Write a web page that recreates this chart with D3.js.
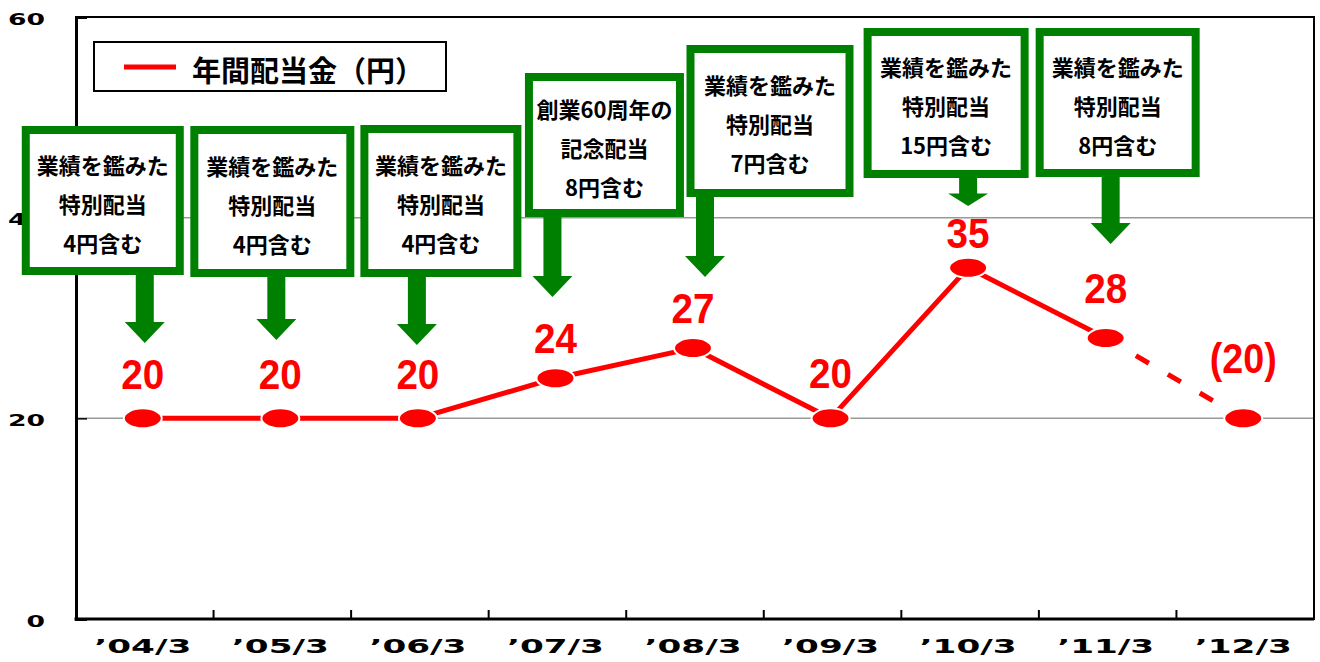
<!DOCTYPE html>
<html>
<head>
<meta charset="utf-8">
<script src="https://cdn.jsdelivr.net/npm/d3@7"></script>
<style>
  body { margin: 0; background: #fff; }
</style>
</head>
<body>
<script>
const categories = ["’04/3", "’05/3", "’06/3", "’07/3", "’08/3", "’09/3", "’10/3", "’11/3", "’12/3"];
const dividends = [20, 20, 20, 24, 27, 20, 35, 28, 20];
const valueLabels = ["20", "20", "20", "24", "27", "20", "35", "28", "(20)"];
const forecastFrom = 7; // '11/3 -> '12/3 is the forecast, drawn dashed
const yTicks = [0, 20, 40, 60];
const seriesName = "年間配当金（円）";

const calloutCategories = ["’04/3", "’05/3", "’06/3", "’07/3", "’08/3", "’10/3", "’11/3"];
const calloutTexts = [
  ["業績を鑑みた", "特別配当", "4円含む"],
  ["業績を鑑みた", "特別配当", "4円含む"],
  ["業績を鑑みた", "特別配当", "4円含む"],
  ["創業60周年の", "記念配当", "8円含む"],
  ["業績を鑑みた", "特別配当", "7円含む"],
  ["業績を鑑みた", "特別配当", "15円含む"],
  ["業績を鑑みた", "特別配当", "8円含む"],
];

const width = 1320;
const height = 662;
const margin = { top: 17, right: 6, bottom: 43, left: 76 };

const red = "#ff0000";
const green = "#008000";

// box offsets from the category centre, box top/bottom, arrow offset and tip
const calloutLayout = [
  { dx: -40, w: 162, top: 126, bottom: 275, ax: 2, tip: 343 },
  { dx: -8, w: 164, top: 126, bottom: 277, ax: -4, tip: 340 },
  { dx: 23, w: 161, top: 125, bottom: 277, ax: -1, tip: 345 },
  { dx: 49, w: 159, top: 73, bottom: 217, ax: -3, tip: 297 },
  { dx: 77, w: 167, top: 45, bottom: 197, ax: 12, tip: 277 },
  { dx: -22, w: 165, top: 28, bottom: 178, ax: 0, tip: 206 },
  { dx: 12, w: 164, top: 28, bottom: 177, ax: 5, tip: 244 },
];
const labelLift = [29, 29, 29, 25, 25, 30, 20, 35, 45];

const xScale = d3
  .scaleBand()
  .domain(categories)
  .range([margin.left, width - margin.right]);

const yScale = d3
  .scaleLinear()
  .domain([0, 60])
  .range([height - margin.bottom, margin.top]);

const cx = (d) => xScale(d) + xScale.bandwidth() / 2 - 2;

const svg = d3
  .select("body")
  .append("svg")
  .attr("width", width)
  .attr("height", height)
  .attr("viewBox", `0 0 ${width} ${height}`);

// grid
svg
  .append("g")
  .selectAll("line")
  .data([20, 40])
  .enter()
  .append("line")
  .attr("x1", margin.left)
  .attr("x2", width - margin.right)
  .attr("y1", (d) => yScale(d))
  .attr("y2", (d) => yScale(d))
  .attr("stroke", "#999")
  .attr("stroke-width", 1.5);

// frame
svg
  .append("rect")
  .attr("x", margin.left)
  .attr("y", margin.top)
  .attr("width", width - margin.left - margin.right)
  .attr("height", height - margin.top - margin.bottom)
  .attr("fill", "none")
  .attr("stroke", "#000")
  .attr("stroke-width", 2);

// y axis
const yAxis = d3.axisLeft(yScale).tickValues(yTicks).tickSize(-11).tickPadding(31);
const yAxisG = svg
  .append("g")
  .attr("transform", `translate(${margin.left} 0)`)
  .call(yAxis);
yAxisG.select(".domain").attr("stroke-width", 3);
yAxisG.selectAll(".tick line").attr("stroke-width", 1.5);
yAxisG
  .selectAll("text")
  .attr("font-family", "DejaVu Sans")
  .attr("font-weight", "bold")
  .attr("font-size", 16)
  .attr("fill", "#000")
  .attr("dy", "0.45em")
  .attr("textLength", (d) => String(d).length * 18.5)
  .attr("lengthAdjust", "spacingAndGlyphs");

// x axis
const xAxis = d3.axisBottom(xScale).tickSize(0).tickPadding(20);
const xAxisG = svg
  .append("g")
  .attr("transform", `translate(-2 ${height - margin.bottom})`)
  .call(xAxis);
xAxisG.select(".domain").remove();
xAxisG
  .selectAll("text")
  .attr("font-family", "DejaVu Sans")
  .attr("font-weight", "bold")
  .attr("font-size", 20)
  .attr("fill", "#000")
  .attr("textLength", 97)
  .attr("lengthAdjust", "spacingAndGlyphs");

svg
  .append("line")
  .attr("x1", margin.left - 1.5)
  .attr("x2", width - margin.right)
  .attr("y1", height - margin.bottom)
  .attr("y2", height - margin.bottom)
  .attr("stroke", "#000")
  .attr("stroke-width", 3);

svg
  .append("g")
  .selectAll("line")
  .data(categories.slice(1))
  .enter()
  .append("line")
  .attr("x1", (d) => xScale(d))
  .attr("x2", (d) => xScale(d))
  .attr("y1", height - margin.bottom)
  .attr("y2", height - margin.bottom - 9)
  .attr("stroke", "#000")
  .attr("stroke-width", 2);

// series
const points = categories.map((c, i) => [cx(c), yScale(dividends[i])]);
const line = d3.line();

svg
  .append("path")
  .attr("d", line(points.slice(0, forecastFrom + 1)))
  .attr("fill", "none")
  .attr("stroke", red)
  .attr("stroke-width", 5)
  .attr("stroke-linejoin", "round");

svg
  .append("path")
  .attr("d", line(points.slice(forecastFrom)))
  .attr("fill", "none")
  .attr("stroke", red)
  .attr("stroke-width", 5)
  .attr("stroke-dasharray", "15,22")
  .attr("stroke-dashoffset", 2);

svg
  .append("g")
  .selectAll("ellipse")
  .data(points)
  .enter()
  .append("ellipse")
  .attr("cx", (d) => d[0])
  .attr("cy", (d) => d[1])
  .attr("rx", 19)
  .attr("ry", 10)
  .attr("fill", red)
  .attr("stroke", "#fff")
  .attr("stroke-width", 2);

// condensed look of the value labels
const labelWidth = (s) =>
  s.split("").reduce((w, ch) => w + (/[()]/.test(ch) ? 12 : 21.5), 0);

svg
  .append("g")
  .selectAll("text")
  .data(points)
  .enter()
  .append("text")
  .attr("x", (d) => d[0])
  .attr("y", (d, i) => d[1] - labelLift[i])
  .attr("text-anchor", "middle")
  .attr("font-family", "Liberation Sans, Arial, sans-serif")
  .attr("font-weight", "bold")
  .attr("font-size", 43)
  .attr("fill", red)
  .attr("textLength", (d, i) => labelWidth(valueLabels[i]))
  .attr("lengthAdjust", "spacingAndGlyphs")
  .text((d, i) => valueLabels[i]);

// legend
const legend = svg.append("g");
legend
  .append("rect")
  .attr("x", 94)
  .attr("y", 42)
  .attr("width", 352)
  .attr("height", 49)
  .attr("fill", "#fff")
  .attr("stroke", "#000")
  .attr("stroke-width", 2);
legend
  .append("line")
  .attr("x1", 124)
  .attr("x2", 176)
  .attr("y1", 67)
  .attr("y2", 67)
  .attr("stroke", red)
  .attr("stroke-width", 5);
legend
  .append("text")
  .attr("x", 192)
  .attr("y", 69)
  .attr("dominant-baseline", "central")
  .attr("font-family", "Noto Sans CJK JP")
  .attr("font-weight", "bold")
  .attr("font-size", 29)
  .attr("fill", "#000")
  .text(seriesName);

// callouts
const callouts = svg
  .append("g")
  .selectAll("g")
  .data(calloutCategories)
  .enter()
  .append("g");

callouts.each(function (c, i) {
  const g = d3.select(this);
  const L = calloutLayout[i];
  const center = cx(c);
  const bx = center + L.dx - L.w / 2;
  const ax = center + L.ax;
  const headH = Math.min(21, (L.tip - L.bottom) * 0.45);
  const shaft = 9;
  const head = 20;

  g.append("path")
    .attr(
      "d",
      `M${ax - shaft},${L.bottom - 4} L${ax + shaft},${L.bottom - 4} L${ax + shaft},${L.tip - headH} ` +
        `L${ax + head},${L.tip - headH} L${ax},${L.tip} L${ax - head},${L.tip - headH} ` +
        `L${ax - shaft},${L.tip - headH} Z`
    )
    .attr("fill", green);

  g.append("rect")
    .attr("x", bx + 4)
    .attr("y", L.top + 4)
    .attr("width", L.w - 8)
    .attr("height", L.bottom - L.top - 8)
    .attr("fill", "#fff")
    .attr("stroke", green)
    .attr("stroke-width", 8);

  const midY = (L.top + L.bottom) / 2 + 2;
  g.selectAll("text")
    .data(calloutTexts[i])
    .enter()
    .append("text")
    .attr("x", bx + L.w / 2)
    .attr("y", (d, k) => midY + (k - 1) * 39)
    .attr("text-anchor", "middle")
    .attr("dominant-baseline", "central")
    .attr("font-family", "Noto Sans CJK JP")
    .attr("font-weight", "bold")
    .attr("font-size", 22)
    .attr("fill", "#000")
    .text((d) => d);
});
</script>
</body>
</html>
